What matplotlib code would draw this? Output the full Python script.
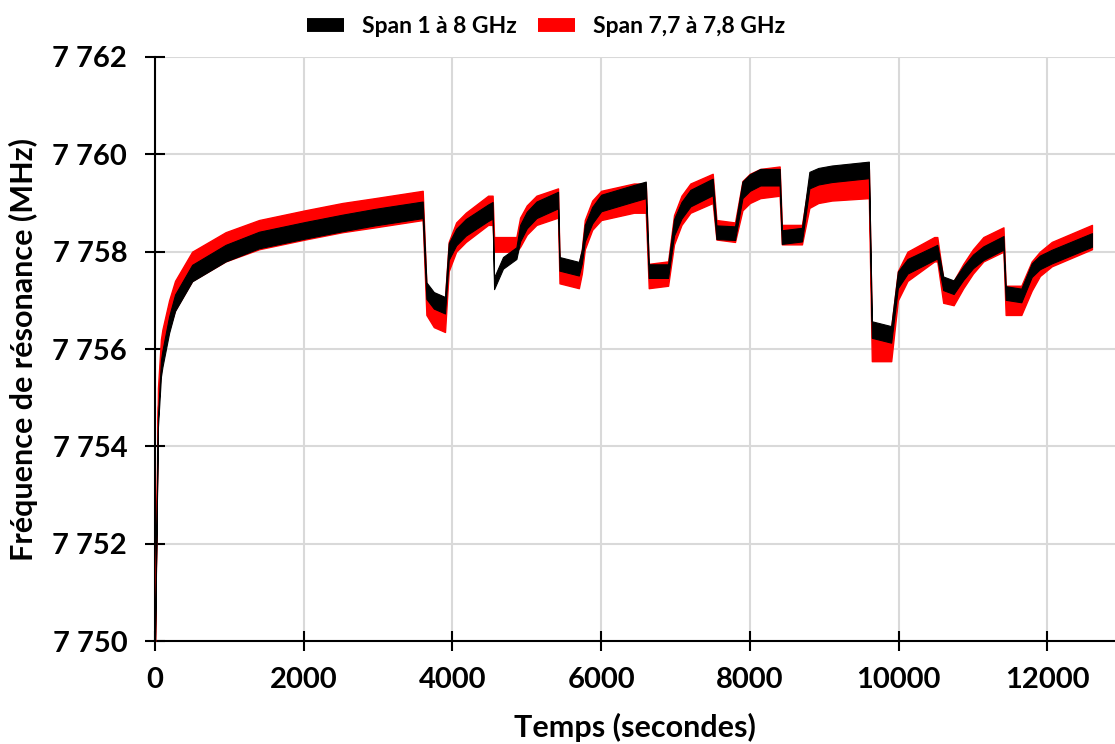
import matplotlib
matplotlib.use("Agg")
import matplotlib.pyplot as plt
from matplotlib.lines import Line2D
from matplotlib.ticker import FuncFormatter

# Time (s) of key points
t = [0, 40, 80, 100, 190, 270, 500, 950, 1400, 2020, 2520, 2960, 3600,
     3650, 3750, 3900, 3950, 4050, 4180, 4480, 4540,
     4560, 4680, 4860, 4910, 5000, 5130, 5420,
     5440, 5700, 5740, 5780, 5880, 6000, 6440, 6600,
     6640, 6900, 6980, 7080, 7200, 7500,
     7550, 7800, 7900, 8000, 8140, 8400,
     8430, 8700, 8800, 8920, 9100, 9600,
     9640, 9900, 9990, 10120, 10480, 10520,
     10600, 10740, 10870, 11000, 11140, 11410,
     11440, 11650, 11790, 11900, 12060, 12600]

# Span 1 à 8 GHz : centre of the black trace (MHz)
black_mid = [7750.0, 7754.5, 7755.6, 7755.8, 7756.5, 7756.95, 7757.56, 7757.97, 7758.24, 7758.44, 7758.59, 7758.71, 7758.86,
             7757.2, 7757.0, 7756.9, 7758.0, 7758.3, 7758.5, 7758.8, 7758.85,
             7757.35, 7757.77, 7757.97, 7758.38, 7758.65, 7758.86, 7759.06,
             7757.75, 7757.65, 7757.9, 7758.38, 7758.75, 7759.0, 7759.2, 7759.27,
             7757.6, 7757.6, 7758.5, 7758.85, 7759.1, 7759.33,
             7758.4, 7758.38, 7759.27, 7759.42, 7759.53, 7759.53,
             7758.3, 7758.35, 7759.47, 7759.55, 7759.6, 7759.68,
             7756.4, 7756.3, 7757.42, 7757.7, 7757.97, 7758.0,
             7757.35, 7757.27, 7757.56, 7757.8, 7757.97, 7758.18,
             7757.15, 7757.1, 7757.62, 7757.78, 7757.9, 7758.24]
black_half = [0.05, 0.1, 0.17, 0.17, 0.17, 0.17, 0.17, 0.17, 0.17, 0.17, 0.17, 0.17, 0.17,
              0.17, 0.17, 0.17, 0.17, 0.17, 0.17, 0.17, 0.17,
              0.12, 0.12, 0.12, 0.17, 0.17, 0.17, 0.17,
              0.14, 0.14, 0.14, 0.17, 0.17, 0.17, 0.17, 0.17,
              0.14, 0.14, 0.17, 0.17, 0.17, 0.17,
              0.14, 0.14, 0.17, 0.17, 0.17, 0.17,
              0.14, 0.14, 0.17, 0.17, 0.17, 0.17,
              0.17, 0.17, 0.17, 0.15, 0.14, 0.14,
              0.14, 0.14, 0.14, 0.14, 0.14, 0.14,
              0.14, 0.14, 0.14, 0.14, 0.14, 0.14]

# Span 7,7 à 7,8 GHz : centre of the red trace (MHz)
red_mid = [7750.0, 7755.0, 7755.9, 7756.1, 7756.7, 7757.1, 7757.7, 7758.1, 7758.35, 7758.55, 7758.7, 7758.8, 7758.95,
           7757.0, 7756.8, 7756.7, 7757.9, 7758.3, 7758.5, 7758.85, 7758.85,
           7758.15, 7758.15, 7758.15, 7758.4, 7758.65, 7758.85, 7759.0,
           7757.6, 7757.5, 7757.8, 7758.35, 7758.75, 7758.95, 7759.1, 7759.1,
           7757.5, 7757.55, 7758.45, 7758.85, 7759.1, 7759.3,
           7758.45, 7758.4, 7759.15, 7759.3, 7759.4, 7759.45,
           7758.35, 7758.35, 7759.2, 7759.3, 7759.35, 7759.4,
           7756.1, 7756.1, 7757.3, 7757.7, 7758.05, 7758.05,
           7757.2, 7757.15, 7757.5, 7757.8, 7758.05, 7758.25,
           7757.0, 7757.0, 7757.5, 7757.75, 7757.95, 7758.3]
red_half = [0.05, 0.2, 0.3, 0.3, 0.3, 0.3, 0.3, 0.3, 0.3, 0.3, 0.3, 0.3, 0.3,
            0.3, 0.35, 0.35, 0.3, 0.3, 0.3, 0.3, 0.3,
            0.15, 0.15, 0.15, 0.3, 0.3, 0.3, 0.3,
            0.25, 0.25, 0.25, 0.3, 0.3, 0.3, 0.3, 0.3,
            0.25, 0.25, 0.3, 0.3, 0.3, 0.3,
            0.2, 0.2, 0.3, 0.3, 0.3, 0.3,
            0.2, 0.2, 0.3, 0.3, 0.3, 0.3,
            0.35, 0.35, 0.3, 0.3, 0.25, 0.25,
            0.25, 0.25, 0.25, 0.25, 0.25, 0.25,
            0.3, 0.3, 0.3, 0.25, 0.25, 0.25]

series_labels = ["Span 1 à 8 GHz", "Span 7,7 à 7,8 GHz"]
x_ticks = [0, 2000, 4000, 6000, 8000, 10000, 12000]
y_ticks = [7750, 7752, 7754, 7756, 7758, 7760, 7762]

plt.rcParams['font.family'] = ['Lato', 'DejaVu Sans']
plt.rcParams['font.weight'] = 'bold'

fig = plt.figure(figsize=(11.15, 7.44), dpi=100)
ax = fig.add_axes([0.139, 0.1384, 0.861, 0.785])

red_lo = [m - h for m, h in zip(red_mid, red_half)]
red_hi = [m + h for m, h in zip(red_mid, red_half)]
blk_lo = [m - h for m, h in zip(black_mid, black_half)]
blk_hi = [m + h for m, h in zip(black_mid, black_half)]

ax.fill_between(t, red_lo, red_hi, color='#ff0000', linewidth=1.0, edgecolor='#ff0000', zorder=3)
ax.fill_between(t, blk_lo, blk_hi, color='#000000', linewidth=0.8, edgecolor='#000000', zorder=4)

ax.set_xlim(0, 12910)
ax.set_ylim(7750, 7762)
ax.set_xticks(x_ticks)
ax.set_yticks(y_ticks)
ax.yaxis.set_major_formatter(FuncFormatter(lambda v, p: f"{int(v):,}".replace(",", " ")))

ax.grid(True, color='#d9d9d9', linewidth=1.5, zorder=0)
ax.set_axisbelow(True)
for s in ['top', 'right']:
    ax.spines[s].set_visible(False)
for s in ['left', 'bottom']:
    ax.spines[s].set_linewidth(1.5)
    ax.spines[s].set_color('black')
ax.tick_params(axis='both', direction='inout', length=14, width=1.5, labelsize=21)
ax.tick_params(axis='y', pad=13)
ax.tick_params(axis='x', pad=12)
for lab in ax.get_xticklabels() + ax.get_yticklabels():
    lab.set_fontweight('bold')

ax.set_xlabel("Temps (secondes)", fontsize=22, fontweight='bold', labelpad=14)
ax.set_ylabel("Fréquence de résonance (MHz)", fontsize=22, fontweight='bold', labelpad=10)

handles = [Line2D([0], [0], color='black', linewidth=10, solid_capstyle='butt'),
           Line2D([0], [0], color='#ff0000', linewidth=10, solid_capstyle='butt')]
fig.legend(handles, series_labels, loc='center', bbox_to_anchor=(0.49, 0.965), ncol=2,
           frameon=False, handlelength=1.6, handletextpad=0.8, columnspacing=0.9,
           prop={'weight': 'bold', 'size': 16.5})

fig.savefig("out.png", dpi=100)
